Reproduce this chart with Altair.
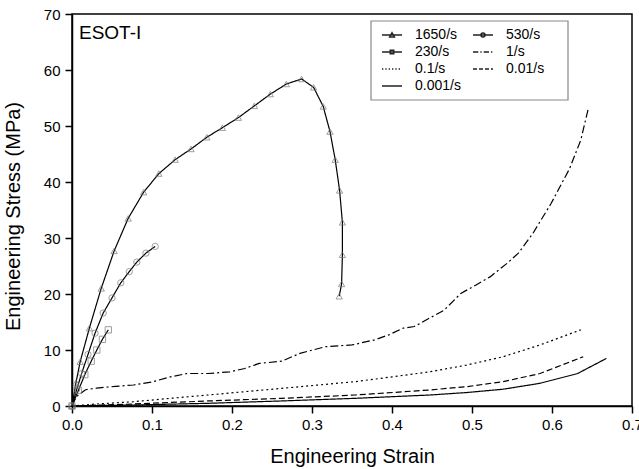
import altair as alt
import pandas as pd

FONT = "Liberation Sans"

series_names = ["1650/s", "530/s", "230/s", "1/s", "0.1/s", "0.01/s", "0.001/s"]

strain_1650 = [0, 0.005, 0.0102, 0.0217, 0.0365, 0.0527, 0.0702, 0.0896, 0.1086, 0.129, 0.1488,
               0.1686, 0.188, 0.208, 0.228, 0.248, 0.268, 0.287, 0.302, 0.314, 0.3225, 0.329,
               0.3345, 0.338, 0.338, 0.337, 0.334]
stress_1650 = [0, 4.2, 7.9, 13.9, 21.0, 27.7, 33.5, 38.2, 41.5, 44.0, 45.9,
               48.0, 49.7, 51.5, 53.6, 55.7, 57.5, 58.4, 56.9, 53.5, 49.0, 44.0,
               38.5, 32.8, 27.0, 21.8, 19.6]

strain_530 = [0, 0.006, 0.012, 0.02, 0.0288, 0.039, 0.050, 0.061, 0.0716, 0.081, 0.0924, 0.104]
stress_530 = [0, 3.0, 5.8, 9.2, 13.0, 16.6, 19.3, 22.0, 24.0, 25.7, 27.3, 28.5]

strain_230 = [0, 0.008, 0.016, 0.024, 0.031, 0.038, 0.0454]
stress_230 = [0, 2.8, 5.6, 8.0, 10.0, 11.9, 13.6]

strain_1 = [0, 0.0055, 0.017, 0.031, 0.054, 0.077, 0.100, 0.123, 0.144, 0.170, 0.197, 0.216,
            0.234, 0.262, 0.285, 0.317, 0.350, 0.378, 0.396, 0.414, 0.428, 0.447, 0.465,
            0.486, 0.505, 0.523, 0.544, 0.558, 0.576, 0.599, 0.622, 0.636, 0.645]
stress_1 = [0, 1.7, 2.9, 3.2, 3.5, 3.75, 4.3, 5.2, 5.8, 5.8, 6.1, 6.7,
            7.6, 8.0, 9.4, 10.6, 10.9, 11.8, 12.7, 13.9, 14.2, 15.7, 17.1,
            20.1, 21.6, 23.1, 25.5, 27.3, 30.8, 36.2, 42.4, 47.5, 52.9]

strain_01 = [0, 0.031, 0.077, 0.123, 0.170, 0.216, 0.262, 0.308, 0.354, 0.400, 0.447, 0.493,
             0.539, 0.585, 0.636]
stress_01 = [0, 0.36, 0.77, 1.37, 1.96, 2.56, 3.15, 3.75, 4.35, 5.2, 6.1, 7.3,
             8.8, 10.9, 13.6]

strain_001 = [0, 0.077, 0.170, 0.262, 0.354, 0.447, 0.493, 0.539, 0.585, 0.639]
stress_001 = [0, 0.36, 0.9, 1.37, 1.96, 2.86, 3.45, 4.35, 5.8, 8.8]

strain_0001 = [0, 0.077, 0.170, 0.262, 0.354, 0.447, 0.493, 0.539, 0.585, 0.632, 0.668]
stress_0001 = [0, 0.18, 0.48, 0.9, 1.37, 1.96, 2.4, 3.0, 4.05, 5.8, 8.5]

all_series = [
    ("1650/s", strain_1650, stress_1650),
    ("530/s", strain_530, stress_530),
    ("230/s", strain_230, stress_230),
    ("1/s", strain_1, stress_1),
    ("0.1/s", strain_01, stress_01),
    ("0.01/s", strain_001, stress_001),
    ("0.001/s", strain_0001, stress_0001),
]

rows = []
for name, xs, ys in all_series:
    for i, (xv, yv) in enumerate(zip(xs, ys)):
        rows.append({"series": name, "strain": xv, "stress": yv, "idx": i})
df = pd.DataFrame(rows)
marker_series = ["1650/s", "530/s", "230/s"]
df_markers = df[df["series"].isin(marker_series)]

# ---- styles ----
dash_range = [[1, 0], [1, 0], [1, 0], [8, 3, 2, 3], [2, 3], [6, 3], [1, 0]]

SYM_PX = 15            # legend symbol nominal size (px); path units scale by SYM_PX/2
UNIT = 2.0 / SYM_PX    # path units per pixel
HALF = 15 * UNIT       # half of a 30 px line


def dash_path(pattern):
    pos = -HALF
    parts = []
    i = 0
    while pos < HALF:
        on = pattern[i % len(pattern)] * UNIT
        off = pattern[(i + 1) % len(pattern)] * UNIT
        end = min(pos + on, HALF)
        parts.append(f"M{pos:.3f},0L{end:.3f},0")
        pos = end + off
        i += 2
    return "".join(parts)


def p(v):
    return f"{v * UNIT:.3f}"


solid = f"M{-HALF:.3f},0L{HALF:.3f},0"
tri = f"M{p(-3.6)},{p(3)}L0,{p(-3.4)}L{p(3.6)},{p(3)}Z"
circ = f"M{p(-3)},0A{p(3)},{p(3)},0,1,1,{p(3)},0A{p(3)},{p(3)},0,1,1,{p(-3)},0Z"
sq = f"M{p(-2.6)},{p(-2.6)}L{p(2.6)},{p(-2.6)}L{p(2.6)},{p(2.6)}L{p(-2.6)},{p(2.6)}Z"
path_for = {
    "1650/s": solid + tri,
    "530/s": solid + circ,
    "230/s": solid + sq,
    "1/s": dash_path([8, 3, 2, 3]),
    "0.1/s": dash_path([2, 3]),
    "0.01/s": dash_path([6, 3]),
    "0.001/s": solid,
}
# legend fills column by column: left column first, then right column
legend_order = ["1650/s", "230/s", "0.1/s", "0.001/s", "530/s", "1/s", "0.01/s"]
legend_paths = [path_for[s] for s in legend_order]

x_axis = alt.Axis(
    values=[round(i * 0.05, 2) for i in range(15)],
    labelExpr="round(datum.value*100) % 10 == 0 ? format(datum.value, '.1f') : ''",
    tickSize={"condition": {"test": "round(datum.value*100) % 10 == 0", "value": 7}, "value": 4},
    labelFlush=False, labelOverlap=False, grid=False,
    labelFontSize=15, labelPadding=4, titleFontSize=20,
    titleX=280, titleY=56, titleBaseline="alphabetic", titleAlign="center",
)
y_axis = alt.Axis(
    values=[i * 5 for i in range(15)],
    labelExpr="datum.value % 10 == 0 ? datum.label : ''",
    tickSize={"condition": {"test": "datum.value % 10 == 0", "value": 7}, "value": 4},
    labelFlush=False, labelOverlap=False, grid=False,
    labelFontSize=15, labelPadding=5, titleFontSize=20,
    titleX=-53, titleY=202, titleBaseline="alphabetic", titleAlign="center", titleAngle=-90,
)

x_enc = alt.X("strain:Q", scale=alt.Scale(domain=[0, 0.7], nice=False, zero=False),
              axis=x_axis, title="Engineering Strain")
y_enc = alt.Y("stress:Q", scale=alt.Scale(domain=[0, 70], nice=False, zero=False),
              axis=y_axis, title="Engineering Stress (MPa)")

# legend frame (decoration, placed in pixels inside the plot area)
frame = alt.Chart(pd.DataFrame({"f": [0]})).mark_rect(
    fill="white", stroke="#888", strokeWidth=1.2
).encode(x=alt.value(299), x2=alt.value(496), y=alt.value(7), y2=alt.value(86))

lines = alt.Chart(df).mark_line(color="black", strokeWidth=1.2, clip=True).encode(
    x=x_enc, y=y_enc,
    strokeDash=alt.StrokeDash("series:N", scale=alt.Scale(domain=series_names, range=dash_range),
                              legend=None),
    order="idx:Q",
)

markers = alt.Chart(df_markers).mark_point(filled=False, color="#777", strokeWidth=1, size=40).encode(
    x="strain:Q", y="stress:Q",
    shape=alt.Shape("series:N", scale=alt.Scale(domain=marker_series,
                                                range=["triangle-up", "circle", "square"]),
                    legend=None),
)

legend_layer = alt.Chart(df).mark_point(filled=False, color="black", strokeWidth=1.1,
                                        size=SYM_PX * SYM_PX, opacity=0).encode(
    x="strain:Q", y="stress:Q",
    shape=alt.Shape("series:N", scale=alt.Scale(domain=legend_order, range=legend_paths),
                    legend=alt.Legend(orient="none", legendX=299, legendY=7, columns=2,
                                      title=None, padding=7, labelFontSize=14, labelFont=FONT,
                                      labelColor="black", symbolOffset=7, labelOffset=16,
                                      symbolFillColor="transparent", symbolStrokeColor="#222",
                                      columnPadding=8, rowPadding=3)),
)

label = alt.Chart(pd.DataFrame({"t": ["ESOT-I"]})).mark_text(
    align="left", baseline="alphabetic", fontSize=19, font=FONT, color="black"
).encode(x=alt.value(7), y=alt.value(25), text="t:N")

chart = alt.layer(frame, lines, markers, legend_layer, label).resolve_scale(
    shape="independent"
).properties(
    width=560, height=392,
    autosize=alt.AutoSizeParams(type="none"),
    padding={"left": 72, "top": 14, "right": 7, "bottom": 63},
    background="white",
).configure_view(
    stroke="black", strokeWidth=1.5
).configure_axis(
    domainColor="black", domainWidth=1.5, tickColor="black", tickWidth=1.5,
    labelColor="black", titleColor="black", labelFont=FONT, titleFont=FONT,
    titleFontWeight="normal",
)

chart.save("out.html", embed_options={"renderer": "svg", "actions": False})
